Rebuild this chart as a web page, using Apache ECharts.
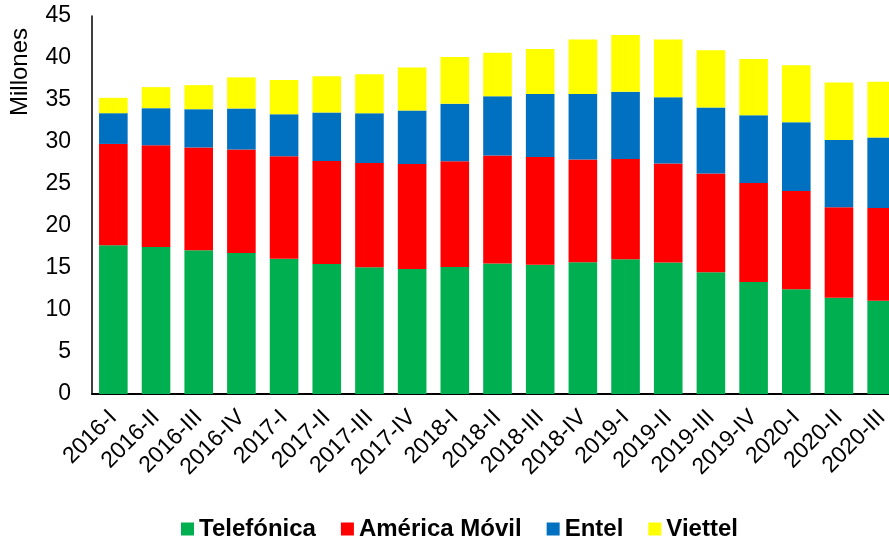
<!DOCTYPE html>
<html>
<head>
<meta charset="utf-8">
<script src="https://cdn.jsdelivr.net/npm/echarts@6/dist/echarts.min.js"></script>
<style>html,body{margin:0;padding:0;background:#fff;}#c{width:889px;height:537px;}</style>
</head>
<body>
<div id="c"></div>
<script>
const categories = ['2016-I','2016-II','2016-III','2016-IV','2017-I','2017-II','2017-III','2017-IV','2018-I','2018-II','2018-III','2018-IV','2019-I','2019-II','2019-III','2019-IV','2020-I','2020-II','2020-III'];
const telefonica = [17.70,17.50,17.10,16.78,16.11,15.47,15.08,14.88,15.11,15.55,15.40,15.67,16.03,15.64,14.48,13.33,12.46,11.47,11.11];
const americaMovil = [12.07,12.12,12.24,12.32,12.20,12.28,12.43,12.51,12.60,12.84,12.82,12.24,11.96,11.80,11.76,11.80,11.71,10.76,11.04];
const entel = [3.66,4.41,4.57,4.89,5.00,5.76,5.92,6.36,6.83,7.07,7.48,7.79,7.98,7.90,7.87,8.06,8.19,8.02,8.38];
const viettel = [1.83,2.50,2.86,3.70,4.06,4.33,4.65,5.13,5.57,5.16,5.36,6.51,6.76,6.87,6.80,6.68,6.79,6.84,6.63];
const yTicks = {min:0, max:45, interval:5};

const FONT = "'Liberation Sans', Arial, sans-serif";
const chart = echarts.init(document.getElementById('c'), null, {renderer:'canvas'});
function s(name, data, color){
  return {name, type:'bar', stack:'total', data, barCategoryGap:'33%',
    itemStyle:{color}, emphasis:{disabled:true}};
}
chart.setOption({
  animation:false,
  textStyle:{fontFamily:FONT},
  grid:{left:92, top:16, height:378, width:811, containLabel:false, outerBoundsMode:'none'},
  legend:{
    left:176, top:512, itemWidth:13, itemHeight:13, itemGap:25,
    icon:'rect',
    textStyle:{fontFamily:FONT, fontSize:24, fontWeight:'bold', color:'#000'},
    data:['Telefónica','América Móvil','Entel','Viettel']
  },
  graphic:[{type:'text', x:20, y:72, rotation:Math.PI/2,
    style:{text:'Millones', fontFamily:FONT, fontSize:24, fill:'#000', align:'center', verticalAlign:'middle'}}],
  xAxis:{type:'category', data:categories,
    axisLine:{lineStyle:{color:'#000', width:2}},
    axisTick:{show:false},
    axisLabel:{rotate:45, fontFamily:FONT, fontSize:23, color:'#000', margin:20, interval:0,
      align:'right', verticalAlign:'middle', hideOverlap:false}
  },
  yAxis:{type:'value', min:yTicks.min, max:yTicks.max, interval:yTicks.interval,
    axisLine:{show:true, lineStyle:{color:'#000', width:1.5}},
    axisTick:{show:false},
    splitLine:{show:false},
    axisLabel:{fontFamily:FONT, fontSize:23, color:'#000', margin:21}
  },
  series:[
    s('Telefónica', telefonica, '#00B050'),
    s('América Móvil', americaMovil, '#FF0000'),
    s('Entel', entel, '#0070C0'),
    s('Viettel', viettel, '#FFFF00')
  ]
});
</script>
</body>
</html>
